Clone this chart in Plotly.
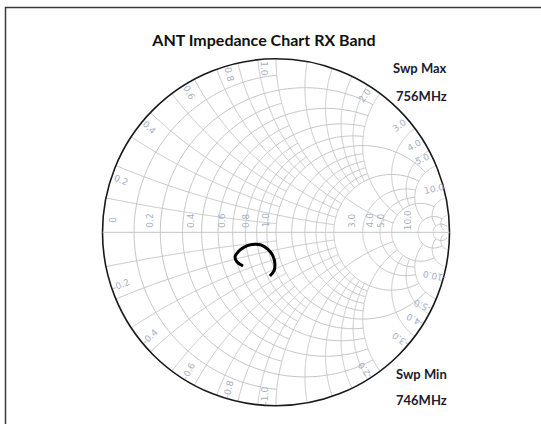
import numpy as np
import plotly.graph_objects as go

# Normalised antenna impedance across the RX sweep (746 MHz -> 756 MHz)
z_real = [0.637, 0.602, 0.597, 0.626, 0.681, 0.751, 0.833, 0.895, 0.931, 0.924, 0.885, 0.824]
z_imag = [-0.267, -0.224, -0.183, -0.152, -0.121, -0.108, -0.123, -0.179, -0.260, -0.350, -0.415, -0.444]

# Labelled grid values
real_labels = [0, 0.2, 0.4, 0.6, 0.8, 1.0, 3.0, 4.0, 5.0, 10.0]
imag_labels = [0.2, 0.4, 0.6, 0.8, 1.0, 2.0, 3.0, 4.0, 5.0, 10.0]

# Grid: (constant value, how far the line runs along the other coordinate)
res_grid = [(0.1, 1), (0.2, 2), (0.3, 1), (0.4, 2), (0.5, 1), (0.6, 2), (0.7, 1), (0.8, 2),
            (0.9, 1), (1.0, 5), (1.2, 2), (1.4, 2), (1.6, 2), (1.8, 2), (2.0, 5),
            (3.0, 5), (4.0, 5), (5.0, 10), (10.0, 20), (20.0, 50)]
reac_grid = [(0.1, 1), (0.2, 2), (0.3, 1), (0.4, 2), (0.5, 1), (0.6, 2), (0.7, 1), (0.8, 2),
             (0.9, 1), (1.0, 5), (1.2, 2), (1.4, 2), (1.6, 2), (1.8, 2), (2.0, 5),
             (3.0, 5), (4.0, 5), (5.0, 10), (10.0, 20), (20.0, 50)]

W, H = 541, 424
CX, CY, RAD = 276.0, 232.3, 173.5   # chart centre and radius in pixels

GRID = "#c4c4c4"
LABEL = "#a3afc8"


def grid_lines():
    re, im = [], []
    for r, xmax in res_grid:
        t = np.linspace(-np.arctan(xmax), np.arctan(xmax), 260)
        re += [r] * len(t) + [None]
        im += list(np.tan(t)) + [None]
    for x, rmax in reac_grid:
        t = np.linspace(0, np.arctan(rmax), 260)
        for s in (1, -1):
            re += list(np.tan(t)) + [None]
            im += [s * x] * len(t) + [None]
    return re, im


def to_paper(gx, gy):
    return (CX + RAD * gx) / W, 1 - (CY - RAD * gy) / H


def fmt(v):
    return "0" if v == 0 else f"{v:.1f}"


gre, gim = grid_lines()

fig = go.Figure()
fig.add_trace(go.Scattersmith(real=gre, imag=gim, mode="lines",
                              line=dict(color=GRID, width=1),
                              hoverinfo="skip", showlegend=False))
fig.add_trace(go.Scattersmith(real=z_real, imag=z_imag, mode="lines",
                              line=dict(color="black", width=3, shape="spline"),
                              name="ANT", showlegend=False))

label_font = dict(family="DejaVu Sans", size=9, color=LABEL)
annotations = []
# resistance labels along the real axis
for r in real_labels:
    g = (r - 1) / (r + 1)
    px = CX + RAD * g - 10
    px = max(px, CX - RAD + 11)
    annotations.append(dict(x=px / W, y=1 - (CY - 12) / H, xref="paper", yref="paper",
                            xanchor="center", yanchor="middle",
                            text=fmt(r), showarrow=False, textangle=-90, font=label_font))
# reactance labels just inside the rim
for x in imag_labels:
    for s in (1, -1):
        th = s * (np.pi - 2 * np.arctan(x))
        th_lab = th + s * np.radians(4)
        rho = 0.945
        xp, yp = to_paper(rho * np.cos(th_lab), rho * np.sin(th_lab))
        ang = -np.degrees(th + np.pi)
        ang = (ang + 180) % 360 - 180
        if ang > 90:
            ang -= 180
        annotations.append(dict(x=xp, y=yp, xref="paper", yref="paper",
                                xanchor="center", yanchor="middle",
                                text=("-" if s < 0 else "") + fmt(x), showarrow=False,
                                textangle=ang, font=label_font))

# sweep limits
for txt, ypx in [("Swp Max", 68), ("756MHz", 96), ("Swp Min", 374), ("746MHz", 400)]:
    annotations.append(dict(x=449 / W, y=1 - ypx / H, xref="paper", yref="paper",
                            xanchor="right", yanchor="middle", text=f"<b>{txt}</b>",
                            showarrow=False,
                            font=dict(family="Lato", size=13, color="#1c1c2c")))

fig.update_layout(
    width=W, height=H,
    margin=dict(l=0, r=0, t=0, b=0),
    paper_bgcolor="white",
    title=dict(text="<b>ANT Impedance Chart RX Band</b>", x=264 / W, xanchor="center",
               y=1 - 40 / H, yanchor="middle",
               font=dict(family="Lato", size=16, color="#111111")),
    smith=dict(
        domain=dict(x=[(CX - RAD) / W, (CX + RAD) / W],
                    y=[1 - (CY + RAD) / H, 1 - (CY - RAD) / H]),
        bgcolor="white",
        realaxis=dict(showgrid=False, showticklabels=False, ticks="",
                      showline=True, linecolor=GRID, linewidth=1),
        imaginaryaxis=dict(showgrid=False, showticklabels=False, ticks="",
                           showline=True, linecolor="#1a1a1a", linewidth=1.6),
    ),
    annotations=annotations,
    shapes=[dict(type="rect", xref="paper", yref="paper",
                 x0=5.5 / W, x1=1.05, y0=-0.05, y1=1 - 7.5 / H,
                 line=dict(color="#3a3a3a", width=1.5))],
)

fig.write_html("out.html")
